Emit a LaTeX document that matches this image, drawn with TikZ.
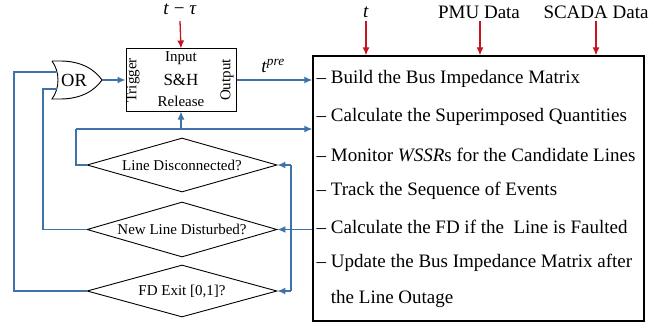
\documentclass[tikz,border=0pt]{standalone}
\usepackage{fontspec}
\setmainfont{Liberation Serif}
\usetikzlibrary{shapes.geometric,arrows.meta}
\definecolor{flowblue}{RGB}{62,114,168}
\definecolor{flowred}{RGB}{200,20,30}
\begin{document}
\begin{tikzpicture}[x=1pt,y=-1pt,
  bluearrow/.style={draw=flowblue,line width=1.3pt,-{Latex[length=8pt,width=7pt]}},
  blueline/.style={draw=flowblue,line width=1.3pt},
  redarrow/.style={draw=flowred,line width=1.3pt,-{Latex[length=8pt,width=7pt]}},
  bigtext/.style={font=\fontsize{19}{22}\selectfont,inner sep=0pt},
  smalltext/.style={font=\fontsize{15}{18}\selectfont,inner sep=0pt},
  dec/.style={draw,diamond,line width=0.9pt,minimum width=190pt,minimum height=54pt,inner sep=0pt},
  itemtext/.style={font=\fontsize{19}{22}\selectfont,inner sep=0pt,anchor=west}]
\useasboundingbox (0,0) rectangle (668,326);

% main box
\node[draw,line width=1.3pt,minimum width=331pt,minimum height=265pt,inner sep=0pt] (main) at (478.5,188.5) {};
\node[itemtext] (l1) at (316.5,79) {– Build the Bus Impedance Matrix};
\node[itemtext] (l2) at (316.5,117) {– Calculate the Superimposed Quantities};
\node[itemtext] (l3) at (316.5,155) {– Monitor \textit{WSSR}s for the Candidate Lines};
\node[itemtext] (l4) at (316.5,191) {– Track the Sequence of Events};
\node[itemtext] (l5) at (316.5,227) {– Calculate the FD if the\ \ Line is Faulted};
\node[itemtext] (l6) at (316.5,263) {– Update the Bus Impedance Matrix after};
\node[itemtext] (l7) at (316.5,299) {\phantom{– }the Line Outage};

% top inputs
\node[bigtext] (tlab) at (366,12) {\textit{t}};
\node[bigtext] (pmu) at (479,12) {PMU Data};
\node[bigtext] (scada) at (596,12) {SCADA Data};
\coordinate (ta) at (366,21);
\coordinate (pa) at (480,21);
\coordinate (sa) at (596,21);
\draw[redarrow] (ta) -- (ta |- main.north);
\draw[redarrow] (pa) -- (pa |- main.north);
\draw[redarrow] (sa) -- (sa |- main.north);

% S&H box
\node[draw,line width=1pt,minimum width=110pt,minimum height=62pt,inner sep=0pt] (sh) at (181,80) {};
\node[smalltext] (inp) at (181,58) {Input};
\node[font=\fontsize{17}{20}\selectfont,inner sep=0pt] (shl) at (181,80) {S\&H};
\node[smalltext] (rel) at (181,101) {Release};
\node[smalltext,rotate=90] (trig) at (133,80.5) {Trigger};
\node[smalltext,rotate=90] (outp) at (227,80) {Output};

\node[bigtext] (tau) at (180,9) {\textit{t} − \textit{τ}};
\coordinate (taua) at (180,21);
\draw[redarrow] (taua) -- (sh.north);

% OR gate
\draw[line width=0.9pt] (52,61) -- (60,61) .. controls (82,61) and (95,70) .. (102,80)
  .. controls (95,90) and (82,99) .. (60,99) -- (52,99)
  .. controls (60,88) and (60,72) .. (52,61);
\node[font=\fontsize{18.5}{20}\selectfont,inner sep=0pt] (or) at (74,80) {OR};
\coordinate (ortip) at (102,80);
\coordinate (orin1) at (56,72);
\coordinate (orin2) at (56.5,89);
\draw[bluearrow] (ortip) -- (sh.west);

% output of S&H
\draw[bluearrow] (sh.east) -- (sh.east -| main.west);
\node[bigtext] (tpre) at (273,66) {\textit{t}\textsuperscript{\textit{pre}}};

% diamonds
\node[dec] (d1) at (182,165) {};
\node[smalltext] (d1t) at (182,165) {Line Disconnected?};
\node[dec,minimum height=55pt] (d2) at (182,229.5) {};
\node[smalltext] (d2t) at (182,229.5) {New Line Disturbed?};
\node[dec,minimum height=52pt] (d3) at (182,291) {};
\node[smalltext] (d3t) at (182,291) {FD Exit [0,1]?};

% loop from d1 to main and release
\coordinate (jl) at (76,129);
\coordinate (jr) at (181,129);
\draw[blueline] (d1.west) -| (jl);
\draw[bluearrow] (jl) -- (jl -| main.west);
\draw[bluearrow] (jr) -- (sh.south);

% d2 to OR
\coordinate (c2) at (43,229.5);
\draw[blueline] (d2.west) -- (c2) |- (orin2);
% d3 to OR
\coordinate (c3) at (14,291);
\draw[blueline] (d3.west) -- (c3) |- (orin1);

% main to diamonds
\coordinate (m2) at (main.west |- d2.east);
\coordinate (vx) at (291,229.5);
\draw[bluearrow] (m2) -- (d2.east);
\draw[blueline] (vx |- d1.east) -- (vx |- d3.east);
\draw[bluearrow] (vx |- d1.east) -- (d1.east);
\draw[bluearrow] (vx |- d3.east) -- (d3.east);
\end{tikzpicture}
\end{document}
